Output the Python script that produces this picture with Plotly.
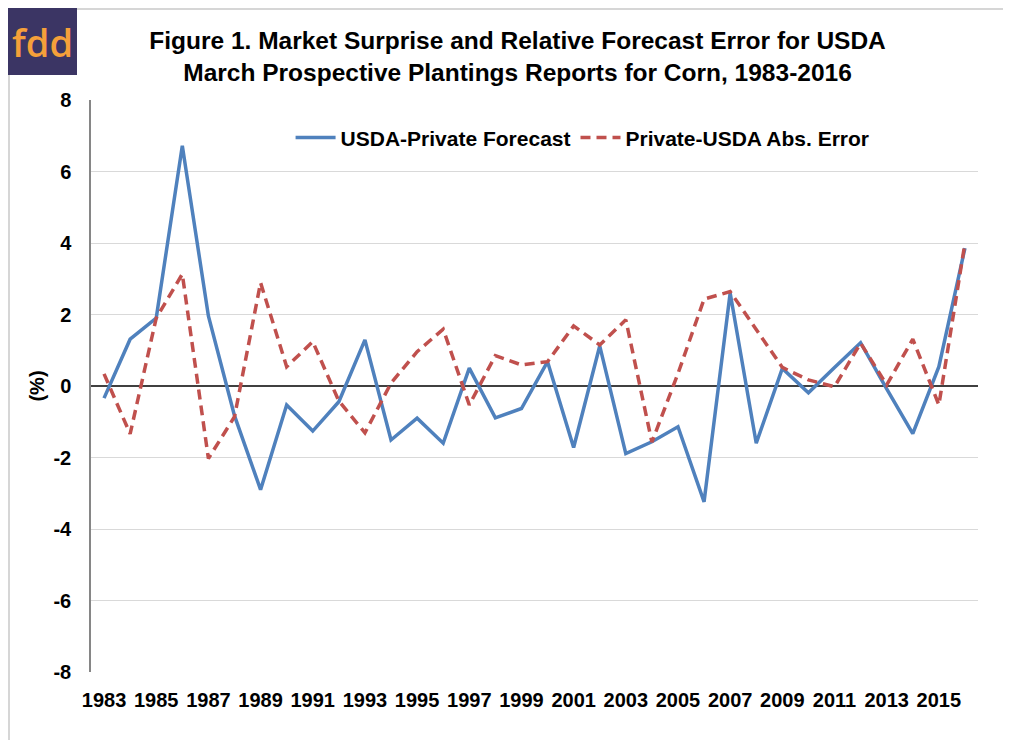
import plotly.graph_objects as go

years = list(range(1983, 2017))
usda_private = [-0.34, 1.31, 1.90, 6.72, 1.96, -0.83, -2.90, -0.53, -1.26, -0.44, 1.29, -1.51,
                -0.90, -1.60, 0.50, -0.89, -0.63, 0.68, -1.72, 1.12, -1.89, -1.56, -1.14, -3.24,
                2.60, -1.60, 0.49, -0.19, 0.52, 1.21, -0.08, -1.33, 0.54, 3.86]
private_usda_abs = [0.34, -1.34, 1.90, 3.13, -2.03, -0.86, 2.89, 0.54, 1.24, -0.42, -1.31, 0.08,
                    0.96, 1.59, -0.53, 0.85, 0.59, 0.68, 1.68, 1.15, 1.85, -1.57, 0.35, 2.43,
                    2.64, 1.58, 0.52, 0.17, -0.02, 1.20, 0.03, 1.31, -0.53, 4.00]
tick_years = list(range(1983, 2016, 2))
y_ticks = list(range(-8, 9, 2))

FONT = "Liberation Sans, Arial, sans-serif"
PW, PH = 887, 572  # plot area size in px (for placing decorations)

fig = go.Figure()
fig.add_trace(go.Scatter(x=years, y=usda_private, mode="lines", name="USDA-Private Forecast",
                         line=dict(color="#4f81bd", width=3.5)))
fig.add_trace(go.Scatter(x=years, y=private_usda_abs, mode="lines", name="Private-USDA Abs. Error",
                         line=dict(color="#c0504d", width=3.5, dash="10px,6px")))

fig.update_layout(
    width=1011, height=740,
    margin=dict(l=83, r=41, t=92, b=76, autoexpand=False),
    paper_bgcolor="white", plot_bgcolor="white",
    title=dict(text="Figure 1. Market Surprise and Relative Forecast Error for USDA<br>March Prospective Plantings Reports for Corn, 1983-2016",
               x=0.504, xanchor="center", y=0.945, yanchor="middle",
               font=dict(family=FONT, size=24.5, color="black", weight="bold")),
    legend=dict(orientation="h", x=0.225, xanchor="left", y=0.934, yanchor="middle",
                bgcolor="rgba(0,0,0,0)", font=dict(family=FONT, size=21, color="black", weight="bold"),
                itemwidth=40, tracegroupgap=0),
    showlegend=True,
)
fig.update_xaxes(range=[1982.5, 2016.5], tickmode="array", tickvals=tick_years,
                 ticktext=[str(y) for y in tick_years], showgrid=False, zeroline=False,
                 showline=False, ticks="", ticklabelstandoff=14, automargin=False,
                 tickfont=dict(family=FONT, size=20, color="black", weight="bold"))
fig.update_yaxes(range=[-8, 8], tickmode="array", tickvals=y_ticks, ticktext=[str(v) for v in y_ticks],
                 showgrid=True, gridcolor="#d9d9d9", gridwidth=1,
                 zeroline=True, zerolinecolor="#404040", zerolinewidth=1.5,
                 showline=True, linecolor="#868686", linewidth=1.5, ticks="",
                 ticklabelstandoff=14, automargin=False,
                 tickfont=dict(family=FONT, size=20, color="black", weight="bold"),
                 title=dict(text="(%)", standoff=3, font=dict(family=FONT, size=20, color="black", weight="bold")))

# frame lines (top and left) around the figure
fx = (1 - 83) / PW
fy = (PH - 1 + 0) / PH + 92 / PH - 92 / PH
top_y = 1 + (92 - 1) / PH
fig.add_shape(type="line", xref="paper", yref="paper", x0=fx, x1=1 + 30 / PW, y0=top_y, y1=top_y,
              line=dict(color="#c8c8c8", width=1.5), layer="below")
fig.add_shape(type="line", xref="paper", yref="paper", x0=fx, x1=fx, y0=-76 / PH, y1=top_y,
              line=dict(color="#c8c8c8", width=1.5), layer="below")
# logo box
fig.add_shape(type="rect", xref="paper", yref="paper", x0=-84 / PW, x1=-14 / PW,
              y0=(PH + 92 - 67) / PH, y1=(PH + 92 + 3) / PH,
              line=dict(color="#3b3564", width=0), fillcolor="#3b3564", layer="above")
fig.add_annotation(text="fdd", xref="paper", yref="paper", x=-49 / PW, y=(PH + 92 - 34) / PH,
                   xanchor="center", yanchor="middle", showarrow=False,
                   font=dict(family="Open Sans, Noto Sans, sans-serif", size=38, color="#f5a03a", weight=600))

fig.write_html("out.html")
